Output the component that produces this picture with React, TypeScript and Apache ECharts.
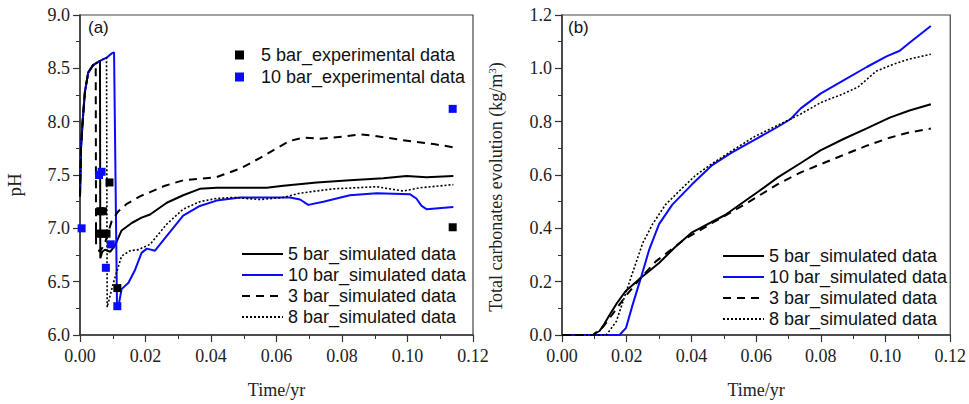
import React, { useEffect, useRef } from "react";
import * as echarts from "echarts";

// ---------- Panel (a): pH ----------
const ph5Sim: number[][] = [
  [0, 7.3], [0.0003, 7.75], [0.0008, 8.0], [0.0015, 8.28], [0.0025, 8.46], [0.004, 8.53], [0.0061, 8.57],
  [0.0062, 6.72], [0.0068, 6.78], [0.0076, 6.8], [0.0092, 6.78], [0.0107, 6.84], [0.0127, 6.98],
  [0.0158, 7.05], [0.0188, 7.1], [0.0214, 7.13], [0.0265, 7.24], [0.0315, 7.31], [0.0366, 7.37],
  [0.0417, 7.38], [0.057, 7.38], [0.0621, 7.4], [0.0723, 7.43], [0.0824, 7.45], [0.0926, 7.47],
  [0.0997, 7.49], [0.1058, 7.48], [0.114, 7.49],
];
const ph10Sim: number[][] = [
  [0, 7.3], [0.0003, 7.75], [0.0008, 8.0], [0.0015, 8.28], [0.0025, 8.46], [0.004, 8.53], [0.0061, 8.57],
  [0.0081, 8.6], [0.0097, 8.64], [0.0104, 8.65], [0.0113, 6.27], [0.0118, 6.28], [0.0127, 6.43],
  [0.0148, 6.49], [0.0168, 6.61], [0.0188, 6.77], [0.0204, 6.81], [0.0229, 6.79], [0.0265, 6.93],
  [0.0315, 7.12], [0.0366, 7.21], [0.0417, 7.26], [0.0489, 7.29], [0.0641, 7.29], [0.0672, 7.27],
  [0.0697, 7.22], [0.0743, 7.25], [0.0824, 7.31], [0.0906, 7.33], [0.1007, 7.32], [0.1027, 7.28],
  [0.1043, 7.21], [0.1058, 7.18], [0.114, 7.2],
];
const ph3Sim: number[][] = [
  [0, 7.3], [0.0003, 7.75], [0.0008, 8.0], [0.0015, 8.28], [0.0025, 8.46], [0.004, 8.53], [0.0048, 8.54],
  [0.0049, 6.85], [0.006, 6.78], [0.0075, 6.85], [0.0097, 7.07], [0.0117, 7.16], [0.0143, 7.23],
  [0.0183, 7.3], [0.0214, 7.34], [0.026, 7.4], [0.0315, 7.45], [0.0417, 7.48], [0.0489, 7.56],
  [0.055, 7.66], [0.06, 7.75], [0.0641, 7.82], [0.0682, 7.85], [0.0733, 7.84], [0.08, 7.86],
  [0.0855, 7.88], [0.0895, 7.87], [0.0977, 7.83], [0.108, 7.79], [0.114, 7.76],
];
const ph8Sim: number[][] = [
  [0, 7.3], [0.0003, 7.75], [0.0008, 8.0], [0.0015, 8.28], [0.0025, 8.46], [0.004, 8.53], [0.0061, 8.57],
  [0.0081, 8.6], [0.0083, 6.26], [0.0102, 6.49], [0.0127, 6.74], [0.0153, 6.79], [0.0178, 6.8],
  [0.0214, 6.85], [0.0265, 7.04], [0.0315, 7.18], [0.0366, 7.25], [0.0417, 7.28], [0.0468, 7.29],
  [0.055, 7.27], [0.0621, 7.29], [0.0672, 7.33], [0.0773, 7.37], [0.0906, 7.39], [0.0946, 7.37],
  [0.0987, 7.35], [0.1038, 7.38], [0.114, 7.41],
];
const ph5Exp: number[][] = [
  [0.0058, 6.95], [0.0068, 6.95], [0.0081, 6.95], [0.0062, 7.16], [0.007, 7.16],
  [0.009, 7.43], [0.0114, 6.44], [0.1138, 7.01],
];
const ph10Exp: number[][] = [
  [0.0005, 7.0], [0.0058, 7.5], [0.0066, 7.53], [0.0079, 6.63], [0.0094, 6.85],
  [0.0114, 6.27], [0.1138, 8.12],
];

// ---------- Panel (b): total carbonates ----------
const tc5Sim: number[][] = [
  [0, 0], [0.0095, 0], [0.0116, 0.015], [0.013, 0.04], [0.0147, 0.075], [0.017, 0.12], [0.0197, 0.165],
  [0.0244, 0.215], [0.03, 0.27], [0.035, 0.33], [0.0402, 0.385], [0.0504, 0.45], [0.0606, 0.537],
  [0.0666, 0.59], [0.0738, 0.645], [0.0799, 0.692], [0.087, 0.735], [0.0942, 0.775], [0.1013, 0.815],
  [0.1074, 0.842], [0.114, 0.865],
];
const tc10Sim: number[][] = [
  [0, 0], [0.0178, 0], [0.0198, 0.027], [0.0218, 0.112], [0.0244, 0.215], [0.0269, 0.318], [0.03, 0.416],
  [0.0341, 0.489], [0.0402, 0.565], [0.0462, 0.635], [0.0523, 0.683], [0.0595, 0.732], [0.0666, 0.78],
  [0.0707, 0.81], [0.0738, 0.85], [0.0799, 0.905], [0.087, 0.955], [0.0942, 1.005], [0.1003, 1.045],
  [0.1044, 1.066], [0.1074, 1.096], [0.114, 1.159],
];
const tc3Sim: number[][] = [
  [0, 0], [0.0096, 0], [0.0115, 0.02], [0.0127, 0.03], [0.0145, 0.06], [0.0162, 0.088], [0.0198, 0.148],
  [0.0244, 0.215], [0.029, 0.276], [0.0381, 0.361], [0.0484, 0.434], [0.0565, 0.49], [0.0666, 0.565],
  [0.0738, 0.61], [0.0799, 0.64], [0.087, 0.675], [0.0942, 0.71], [0.1013, 0.74], [0.1074, 0.76],
  [0.114, 0.774],
];
const tc8Sim: number[][] = [
  [0, 0], [0.0137, 0], [0.0168, 0.051], [0.0188, 0.124], [0.0218, 0.233], [0.0249, 0.343], [0.028, 0.416],
  [0.032, 0.489], [0.0371, 0.55], [0.0412, 0.598], [0.0462, 0.641], [0.0523, 0.689], [0.0595, 0.744],
  [0.0666, 0.786], [0.0738, 0.829], [0.0799, 0.871], [0.087, 0.905], [0.0915, 0.93], [0.0972, 0.99],
  [0.1023, 1.015], [0.1074, 1.035], [0.114, 1.053],
];

const simNames = [
  "5 bar_simulated data",
  "10 bar_simulated data",
  "3 bar_simulated data",
  "8 bar_simulated data",
];
const expNames = ["5 bar_experimental data", "10 bar_experimental data"];

const BLUE = "#0a0aff";
const SERIF = "'Liberation Serif', 'Times New Roman', serif";
const SANS = "'Liberation Sans', Arial, sans-serif";

function simSeries(idx: number, grid: number, data: number[][]) {
  const styles = [
    { color: "#000", width: 2, type: "solid" as any },
    { color: BLUE, width: 2, type: "solid" as any },
    { color: "#000", width: 2, type: [8, 6] as any },
    { color: "#000", width: 1.6, type: [2, 2] as any },
  ];
  const s = styles[idx];
  return {
    type: "line",
    name: simNames[idx],
    xAxisIndex: grid,
    yAxisIndex: grid,
    data,
    symbol: "none",
    showSymbol: false,
    color: s.color,
    lineStyle: { color: s.color, width: s.width, type: s.type },
    z: 3,
  };
}

function xAxisCfg(gridIndex: number) {
  return {
    type: "value",
    gridIndex,
    min: 0,
    max: 0.12,
    interval: 0.02,
    name: "Time/yr",
    nameLocation: "middle",
    nameGap: 46,
    nameTextStyle: { fontFamily: SERIF, fontSize: 18, color: "#222" },
    axisLine: { show: true, onZero: false, lineStyle: { color: "#333", width: 1.5 } },
    axisTick: { show: true, inside: false, length: 7, lineStyle: { color: "#333", width: 1.2 } },
    minorTick: { show: true, splitNumber: 2, length: 4, lineStyle: { color: "#333", width: 1 } },
    axisLabel: {
      fontFamily: SERIF,
      fontSize: 18,
      color: "#222",
      margin: 12,
      formatter: (v: number) => v.toFixed(2),
    },
    splitLine: { show: false },
  };
}

function yAxisCfg(
  gridIndex: number, min: number, max: number, interval: number,
  name: string, nameGap: number, nameSize: number, shift: number, rich?: any
) {
  return {
    type: "value",
    gridIndex,
    min,
    max,
    interval,
    name,
    nameLocation: "middle",
    nameGap,
    nameTextStyle: { fontFamily: SERIF, fontSize: nameSize, color: "#222", padding: [0, shift, 0, 0], rich },
    axisLine: { show: true, onZero: false, lineStyle: { color: "#333", width: 1.5 } },
    axisTick: { show: true, inside: false, length: 7, lineStyle: { color: "#333", width: 1.2 } },
    minorTick: { show: true, splitNumber: 2, length: 4, lineStyle: { color: "#333", width: 1 } },
    axisLabel: {
      fontFamily: SERIF,
      fontSize: 18,
      color: "#222",
      margin: 10,
      formatter: (v: number) => v.toFixed(1),
    },
    splitLine: { show: false },
  };
}

export default function App() {
  const ref = useRef<HTMLDivElement>(null);

  useEffect(() => {
    if (!ref.current) return;
    const chart = echarts.init(ref.current, undefined, { renderer: "svg" });

    const legendText = { fontFamily: SANS, fontSize: 18, color: "#111" };
    const simLegend = (left: number, top: number) => ({
      data: simNames,
      orient: "vertical",
      left,
      top,
      padding: 0,
      itemWidth: 41,
      itemHeight: 14,
      itemGap: 3,
      itemStyle: { opacity: 0 },
      textStyle: legendText,
    });

    chart.setOption({
      animation: false,
      backgroundColor: "#fff",
      title: [
        { text: "(a)", left: 88, top: 19, padding: 0, textStyle: { fontFamily: SANS, fontSize: 17, fontWeight: "normal", color: "#111" } },
        { text: "(b)", left: 568, top: 19, padding: 0, textStyle: { fontFamily: SANS, fontSize: 17, fontWeight: "normal", color: "#111" } },
      ],
      grid: [
        { left: 80, top: 15, width: 393, height: 329, show: true, borderColor: "#444", borderWidth: 1.2, backgroundColor: "transparent" },
        { left: 562, top: 15, width: 392, height: 329, show: true, borderColor: "#444", borderWidth: 1.2, backgroundColor: "transparent" },
      ],
      xAxis: [xAxisCfg(0), xAxisCfg(1)],
      yAxis: [
        yAxisCfg(0, 6, 9, 0.5, "pH", 56, 19, 20),
        yAxisCfg(1, 0, 1.2, 0.2, "Total carbonates evolution (kg/m{sup|3})", 56, 18, 24, {
          sup: { fontFamily: SERIF, fontSize: 11, color: "#222", verticalAlign: "top", padding: [0, 0, 9, 0] },
        }),
      ],
      legend: [
        {
          data: expNames,
          orient: "vertical",
          left: 235,
          top: 46,
          padding: 0,
          itemWidth: 9,
          itemHeight: 9,
          itemGap: 4,
          icon: "rect",
          formatter: (n: string) => "{t|" + n + "}",
          textStyle: { ...legendText, rich: { t: { ...legendText, padding: [0, 0, 0, 12] } } },
        },
        simLegend(241, 245),
        simLegend(722, 247),
      ],
      series: [
        simSeries(0, 0, ph5Sim),
        simSeries(1, 0, ph10Sim),
        simSeries(2, 0, ph3Sim),
        simSeries(3, 0, ph8Sim),
        {
          type: "scatter",
          name: expNames[0],
          xAxisIndex: 0,
          yAxisIndex: 0,
          data: ph5Exp,
          symbol: "rect",
          symbolSize: 8,
          itemStyle: { color: "#000", opacity: 1 },
          z: 5,
        },
        {
          type: "scatter",
          name: expNames[1],
          xAxisIndex: 0,
          yAxisIndex: 0,
          data: ph10Exp,
          symbol: "rect",
          symbolSize: 8,
          itemStyle: { color: BLUE, opacity: 1 },
          z: 5,
        },
        simSeries(0, 1, tc5Sim),
        simSeries(1, 1, tc10Sim),
        simSeries(2, 1, tc3Sim),
        simSeries(3, 1, tc8Sim),
      ],
    });

    return () => chart.dispose();
  }, []);

  return <div ref={ref} style={{ width: 969, height: 404, position: "absolute", left: 0, top: 0 }} />;
}
